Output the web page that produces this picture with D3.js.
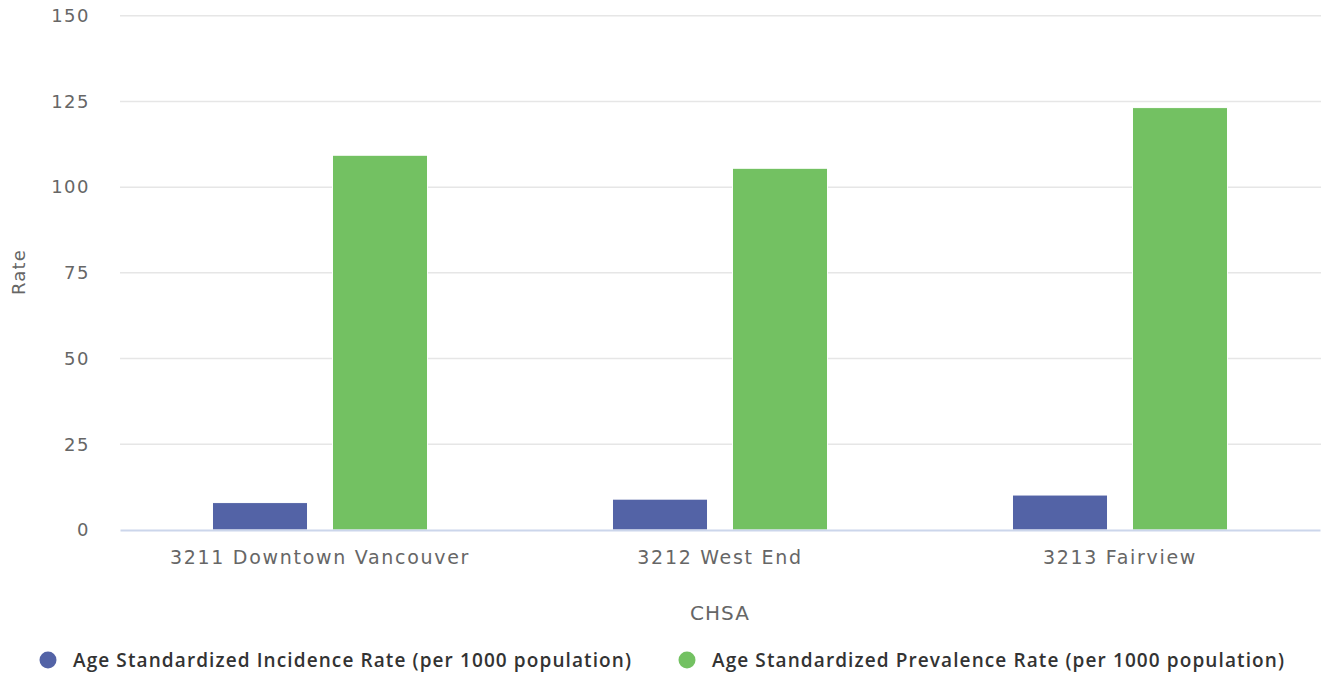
<!DOCTYPE html>
<html><head><meta charset="utf-8">
<script src="https://cdn.jsdelivr.net/npm/d3@7"></script>
<style>body{margin:0;background:#fff;} svg{display:block;font-family:"DejaVu Sans",sans-serif;}</style>
</head><body><svg id="c" width="1321" height="677"></svg>
<script>
const categories = ["3211 Downtown Vancouver", "3212 West End", "3213 Fairview"];
const seriesNames = ["Age Standardized Incidence Rate (per 1000 population)", "Age Standardized Prevalence Rate (per 1000 population)"];
const incidence = [8.0, 9.0, 10.2];
const prevalence = [109.3, 105.5, 123.2];
const yTicks = [0, 25, 50, 75, 100, 125, 150];
const colors = ["#5363a6", "#73c162"];

const FONT = "'DejaVu Sans', sans-serif";
const svg = d3.select("#c");
const m = {left:120, right:1};
const W = 1321;
const x = d3.scaleBand().domain(categories).range([m.left, W - m.right]).padding(0);
const x1 = d3.scaleBand().domain([0,1]).range([x.bandwidth()*0.2, x.bandwidth()*0.8]).paddingInner(0.208).paddingOuter(0.104);
const y = d3.scaleLinear().domain([0,150]).range([530, 15.7]);

// grid
svg.append("g").selectAll("line").data(yTicks.filter(d=>d>0)).join("line")
  .attr("x1", m.left).attr("x2", W).attr("y1", d=>y(d)).attr("y2", d=>y(d))
  .attr("stroke", "#e6e6e6").attr("stroke-width", 1.5);

// y axis labels
const yAxis = d3.axisLeft(y).tickValues(yTicks).tickSize(0).tickPadding(0);
const gy = svg.append("g").attr("transform", `translate(90,0)`).call(yAxis).attr("font-family", FONT).attr("font-size", 18);
gy.select(".domain").remove();
gy.selectAll("text").attr("fill", "#666").style("letter-spacing","1.5px");

// bars
const data = categories.map((c,i)=>({c, vals:[incidence[i], prevalence[i]]}));
const groups = svg.append("g").selectAll("g").data(data).join("g")
  .attr("transform", d=>`translate(${x(d.c)},0)`);
groups.selectAll("rect").data(d=>d.vals.map((v,k)=>({v,k}))).join("rect")
  .attr("x", d=>x1(d.k)).attr("width", x1.bandwidth())
  .attr("y", d=>y(d.v)).attr("height", d=>y(0)-y(d.v))
  .attr("fill", d=>colors[d.k]).attr("stroke", "#fff").attr("stroke-width", 1);

// x axis
const xAxis = d3.axisBottom(x).tickSize(0).tickPadding(21);
const gx = svg.append("g").attr("transform", `translate(0,${y(0)})`).call(xAxis).attr("font-family", FONT).attr("font-size", 19);
gx.select(".domain").attr("stroke", "#ccd6eb").attr("stroke-width", 2);
gx.selectAll("text").attr("fill", "#666").style("letter-spacing","1.7px");

// axis titles
svg.append("text").attr("x", 720).attr("y", 620).attr("text-anchor","middle").attr("font-family", FONT)
  .attr("fill","#666").style("font-size","20px").style("letter-spacing","1px").text("CHSA");
svg.append("text").attr("transform","translate(25,272) rotate(-90)").attr("text-anchor","middle").attr("font-family", FONT)
  .attr("fill","#666").style("font-size","18px").style("letter-spacing","1.2px").text("Rate");

// legend
const legX = [48, 687];
const lg = svg.append("g").selectAll("g").data(seriesNames).join("g")
  .attr("transform", (d,i)=>`translate(${legX[i]},660)`);
lg.append("circle").attr("r", 8.5).attr("fill", (d,i)=>colors[i]);
lg.append("text").attr("x", 25).attr("y", 7).attr("fill","#333").attr("font-family", "'Open Sans', sans-serif")
  .style("font-size","19px").style("font-weight","600").style("letter-spacing","1.1px").text(d=>d);
</script></body></html>
